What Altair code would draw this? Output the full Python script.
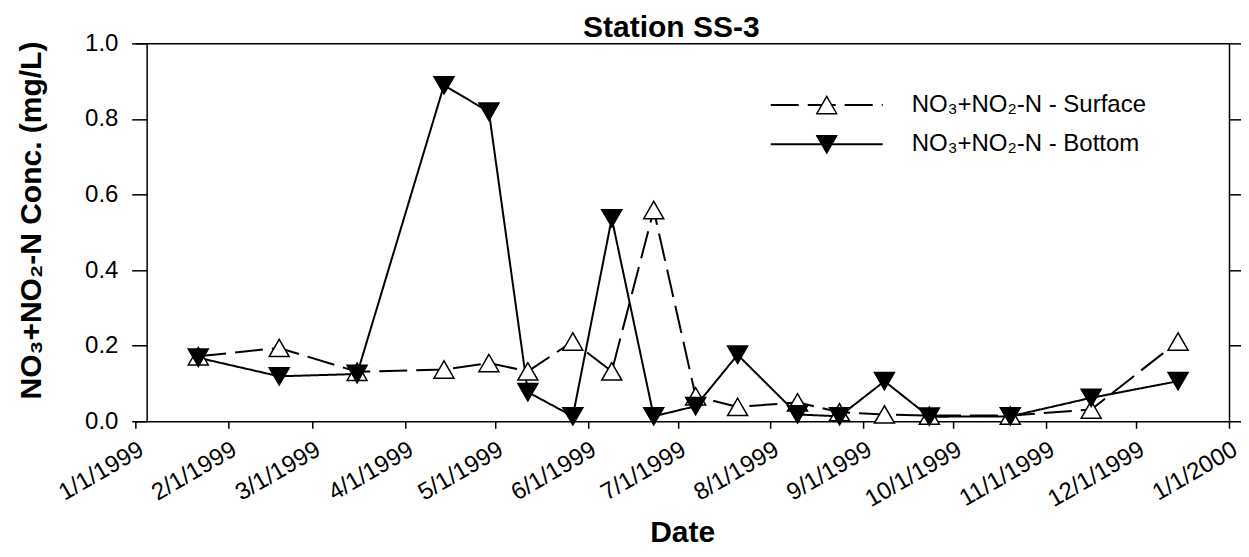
import altair as alt
import pandas as pd

# ---- data ----
dates = ["1999-01-22", "1999-02-18", "1999-03-16", "1999-04-14", "1999-04-29",
         "1999-05-12", "1999-05-27", "1999-06-09", "1999-06-23", "1999-07-07",
         "1999-07-21", "1999-08-10", "1999-08-24", "1999-09-08", "1999-09-23",
         "1999-10-20", "1999-11-16", "1999-12-15"]
surface = [0.172, 0.194, 0.131, 0.137, 0.154, 0.132, 0.211, 0.132, 0.559, 0.066,
           0.038, 0.050, 0.024, 0.018, 0.015, 0.015, 0.031, 0.211]
bottom = [0.168, 0.119, 0.125, 0.889, 0.819, 0.077, 0.013, 0.537, 0.013, 0.040,
          0.176, 0.018, 0.013, 0.106, 0.012, 0.013, 0.062, 0.106]
series_names = ["NO\u2083+NO\u2082-N - Surface", "NO\u2083+NO\u2082-N - Bottom"]
depths = ["Surface", "Bottom"]
tick_months = [(1999, 1), (1999, 2), (1999, 3), (1999, 4), (1999, 5), (1999, 6),
               (1999, 7), (1999, 8), (1999, 9), (1999, 10), (1999, 11), (1999, 12),
               (2000, 1)]
y_ticks = [0.0, 0.2, 0.4, 0.6, 0.8, 1.0]
chart_title = "Station SS-3"

rows = []
for d, s, b in zip(dates, surface, bottom):
    rows.append({"date": d, "value": s, "Series": series_names[0], "Depth": depths[0]})
    rows.append({"date": d, "value": b, "Series": series_names[1], "Depth": depths[1]})
df = pd.DataFrame(rows)

FONT = "Liberation Sans"
x_values = [alt.DateTime(year=y, month=m, date=1, utc=True) for y, m in tick_months]
x_scale = alt.Scale(type="utc", domain=[x_values[0], x_values[-1]])
y_scale = alt.Scale(domain=[0, 1])

base = alt.Chart(df)

lines = base.mark_line(color="black", strokeWidth=2).encode(
    x=alt.X("date:T", scale=x_scale,
            axis=alt.Axis(title="Date", values=x_values, format="%-m/%-d/%Y",
                          labelAngle=330, labelAlign="right", labelBaseline="top",
                          labelOverlap=False, labelFontSize=24, labelPadding=9,
                          tickSize=7, titleFontSize=30, titleFontWeight="bold",
                          titleY=120.5, titleBaseline="alphabetic")),
    y=alt.Y("value:Q", scale=y_scale,
            axis=alt.Axis(title="NO\u2083+NO\u2082-N Conc. (mg/L)", values=y_ticks,
                          format=".1f", offset=-11.3, tickSize=15, labelPadding=13.7,
                          labelFontSize=24, titleFontSize=30, titleFontWeight="bold",
                          titleAngle=270, titleX=-106, titleY=176.7,
                          titleAlign="center", titleBaseline="alphabetic")),
    strokeDash=alt.StrokeDash(
        "Series:N",
        scale=alt.Scale(domain=series_names, range=[[28, 9], [1, 0]]),
        legend=alt.Legend(orient="none", legendX=634.6, legendY=46.7, title=None,
                          symbolType="stroke", symbolSize=12544, symbolStrokeWidth=2,
                          symbolStrokeColor="black", clipHeight=30, rowPadding=9.3,
                          padding=0, labelFontSize=24, labelOffset=28, labelLimit=400,
                          labelColor="black", labelFont=FONT)),
)

marker_legend = alt.Legend(orient="none", legendX=680.6, legendY=46.7, title=None,
                           symbolSize=400, symbolStrokeWidth=1.5, symbolOpacity=1,
                           clipHeight=30, rowPadding=9.3, padding=0,
                           labelExpr="''", labelOffset=0)

points = base.mark_point(filled=True, size=400, strokeWidth=1.5, opacity=1).encode(
    x=alt.X("date:T", scale=x_scale,
            axis=alt.Axis(orient="top", labels=False, ticks=False, title=chart_title,
                          titleFontSize=30, titleFontWeight="bold",
                          titleX=535.6, titleY=-6.6, titleAlign="center",
                          titleBaseline="alphabetic")),
    y=alt.Y("value:Q", scale=y_scale,
            axis=alt.Axis(orient="right", labels=False, values=y_ticks, tickSize=17,
                          title=None)),
    shape=alt.Shape("Depth:N",
                    scale=alt.Scale(domain=depths, range=["triangle-up", "triangle-down"]),
                    legend=marker_legend),
    fill=alt.Fill("Depth:N", scale=alt.Scale(domain=depths, range=["white", "black"]),
                  legend=marker_legend),
    stroke=alt.Stroke("Depth:N", scale=alt.Scale(domain=depths, range=["black", "black"]),
                      legend=marker_legend),
)

chart = alt.layer(lines, points).resolve_axis(
    x="independent", y="independent"
).properties(
    width=1094, height=378,
    autosize=alt.AutoSizeParams(type="none"),
    padding={"left": 127.4, "top": 35.3, "right": 12, "bottom": 128},
).configure(
    font=FONT,
).configure_view(
    stroke=None,
).configure_axis(
    grid=False, domainColor="black", domainWidth=1.5, tickColor="black",
    tickWidth=1.5, labelColor="black", titleColor="black", labelFont=FONT,
    titleFont=FONT,
)

chart.save("out.html", embed_options={"renderer": "svg", "actions": False})
